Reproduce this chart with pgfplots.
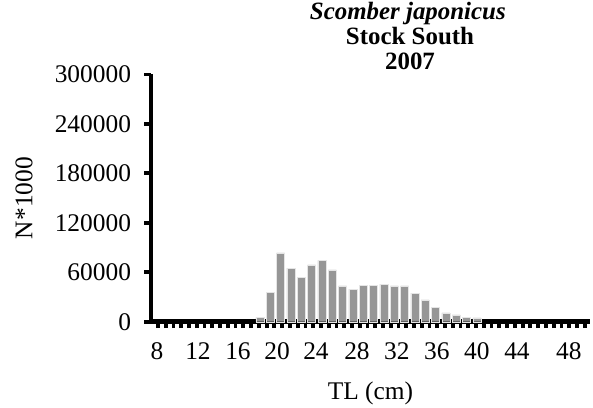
\documentclass[border=0pt]{standalone}
\usepackage{fontspec}
\setmainfont{Liberation Serif}
\usepackage{pgfplots}
\pgfplotsset{compat=1.18}
\definecolor{bargray}{RGB}{150,150,150}

% length classes (cm) and numbers (N*1000)
\pgfplotstableread{
L    N
18   4900
19   35400
20   83400
21   65100
22   54100
23   69100
24   74400
25   63000
26   43500
27   39500
28   44400
29   44400
30   45600
31   43500
32   43500
33   34600
34   26500
35   17100
36   10600
37   8200
38   5700
39   4500
}\lfdata

\begin{document}
\begin{tikzpicture}
\useasboundingbox (-151bp,-86.3bp) rectangle (442bp,321.7bp);
\begin{axis}[
    scale only axis,
    width=439bp, height=247.2bp,
    xmin=7.45, xmax=49.95,
    ymin=0, ymax=300000,
    axis x line*=bottom,
    axis y line*=left,
    axis line style={line width=4.5bp},
    tick align=outside,
    major tick length=6.5bp,
    tick style={line width=3.8bp, black},
    xtick={8.13,8.881,...,49.9},
    xticklabels={},
    extra x ticks={8.03,12.0,15.87,19.65,23.42,27.39,31.26,35.13,39.0,42.88,47.91},
    extra x tick labels={8,12,16,20,24,28,32,36,40,44,48},
    extra x tick style={tick style={draw=none}, xticklabel style={yshift=-11bp}},
    ytick={0,60000,120000,180000,240000,300000},
    scaled y ticks=false,
    /pgf/number format/assume math mode=true,
    yticklabel style={/pgf/number format/fixed, /pgf/number format/1000 sep={}, xshift=-10bp},
    tick label style={font=\fontsize{25.5}{27}\selectfont},
    xlabel={TL (cm)},
    ylabel={N*1000},
    label style={font=\fontsize{25.5}{27}\selectfont},
    xlabel style={at={(axis description cs:0.5,0)}, anchor=center, yshift=-72bp},
    ylabel style={at={(axis description cs:0,0.5)}, anchor=center, xshift=0bp, yshift=127bp},
    clip=false,
]
\addplot[ybar, bar width=8bp, fill=bargray, draw=white!80!gray, line width=0.4bp]
    table[x=L, y=N] {\lfdata};

\node[anchor=base, font=\fontsize{25}{27}\selectfont\bfseries\itshape]
    at (axis description cs:0.585,1) [yshift=55bp] {Scomber japonicus};
\node[anchor=base, font=\fontsize{25}{27}\selectfont\bfseries]
    at (axis description cs:0.59,1) [yshift=29.5bp] {Stock South};
\node[anchor=base, font=\fontsize{25}{27}\selectfont\bfseries]
    at (axis description cs:0.59,1) [yshift=5bp] {2007};
\end{axis}
\end{tikzpicture}
\end{document}
